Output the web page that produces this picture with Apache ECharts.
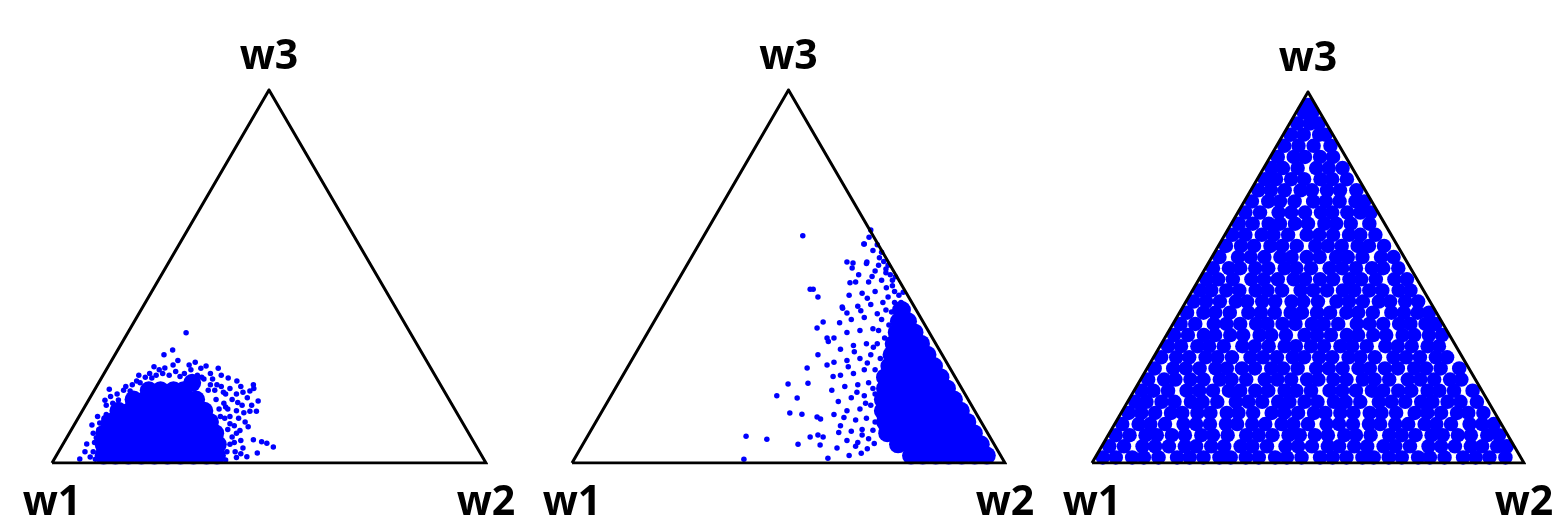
<!DOCTYPE html>
<html>
<head>
<meta charset="utf-8">
<title>Ternary weight samples</title>
<script src="https://cdn.jsdelivr.net/npm/echarts@6/dist/echarts.min.js"></script>
<style>
	html, body { margin: 0; padding: 0; background: #fff; }
	#chart { width: 1556px; height: 522px; }
</style>
</head>
<body>
<div id="chart"></div>
<script>
// coordinates: x = position along w1 -> w2 (0..100), h = height toward w3 (0..100)
var vertexLabels = ['w1', 'w2', 'w3'];
var triangle = [[0, 0], [100, 0], [50, 100], [0, 0]];

// panel 1: cluster near w1
var blobCoreRows = [
	[2, [11.9, 14.6, 17.6, 20.6, 23.6, 26.6, 29.6, 32.6, 35.6, 38]],
	[5, [11.9, 14.6, 17.6, 20.6, 23.6, 26.6, 29.6, 32.6, 35.6, 38.2]],
	[8, [12.1, 14.8, 17.8, 20.8, 23.8, 26.8, 29.8, 32.8, 35.8, 37.6]],
	[11, [13.3, 16, 19, 22, 25, 28, 31, 34, 36.4]],
	[14, [15.3, 18, 21, 24, 27, 30, 33, 35.1]],
	[17, [18.8, 21.5, 24.5, 27.5, 30.5, 33.2]],
	[19.5, [22.3, 25, 28, 30.3]],
	[21.5, [32.3]]
];
var blobFringe = [
	[30.9,34.9],[25.8,29],[27.8,30.3],[24.7,25],[27.9,26.3],[31.6,26.3],[34.3,25.4],[38.3,25.4],
	[40.6,22.8],[42.6,22],[46.4,21],[46.5,20],[45.6,19.3],[47.5,16.6],[43.8,15.5],[45.6,13.9],
	[47.1,13.9],[45.2,9.7],[43.3,8.7],[46.4,6.2],[48.3,5.7],[49.5,5.3],[51,4.3],[47.3,2.7],
	[44.9,1.7],[42.2,3],[8,5.1],[6.4,1.1],[8.8,1.6],[11,10.7],[12.5,13],[15.3,16.9],[18,19.3],
	[20.3,21.5],[23,22.8],[40,18.5],[39,20.5],[37.5,19.5],[41.5,17],[42.5,14],[41,12.5],[43,12],
	[40.5,14.5],[42,10],[41.5,7],[43.5,6],[44,4],[42.5,1.5],[41,5],[40.5,9],[39.6,16],[36.5,21],
	[35,22.5],[33.5,23.5],[29.5,23.2],[27,23.5],[21.5,23],[26,25.5],[18.5,21],[16.5,19.5],[14,16],
	[12.5,15.5],[13.5,17.8],[10.5,12.5],[9.5,8],[9.2,10.2],[9.5,3],[9.8,5.5],[10,1],[25.5,24],
	[36.5,24],[39,23.5],[44.5,11],[45,17.5],[44,19],[43.5,20.5],
	[17,20.5],[19.5,22],[22.5,24],[24,23.5],[28.5,24.5],[30.5,24],[32,25],[34.5,23],[37,22.5],
	[38,21],[39.5,19],[41,20],[42.5,18.5],[40,15],[41,10.5],[42.5,8],[40.3,3],[42,5.5],[43.5,2.5],
	[40,0.8],[38.8,12.5],[39.8,12],[38.5,14.5],[37.8,17],[36,19.5],[15,18.5],[14.2,14],[12,12],
	[10.8,9],[10.2,6.8],[10.8,3.5],[7.6,3],[12.2,16.8],[13.2,19.8],[20,23.5],[23.5,25.8],[29,27.5],
	[33,27],[35.5,26],[44.2,13.5],[46,15.5],[42.8,16.2]
];

// panel 2: mass pushed against the w2-w3 edge
var skewCoreRows = [
	[2, [78.3, 81, 84, 87, 90, 93, 95.8]],
	[5, [75.3, 78, 81, 84, 87, 90, 92.6, 94.4]],
	[8, [72.8, 75.5, 78.5, 81.5, 84.5, 87.5, 90.5, 92.8]],
	[11, [72.3, 75, 78, 81, 84, 87, 89.5, 91.3]],
	[14, [71.8, 74.5, 77.5, 80.5, 83.5, 86.5, 88.6, 89.8]],
	[17, [71.8, 74.5, 77.5, 80.5, 83.5, 86.5, 88.2]],
	[20, [72.3, 75, 78, 81, 84, 86.6]],
	[23, [72.3, 75, 78, 81, 83.5, 85.1]],
	[26, [73.3, 76, 79, 82, 83.6]],
	[29, [73.8, 76.5, 79.5, 82.1]],
	[32, [74.3, 77, 79.5, 80.6]],
	[35, [75, 77.5, 79.1]],
	[38, [75.5, 77.6]],
	[41, [76, 76.2]]
];
var skewFringe = [
	[53.3,60.9],[67.4,58.7],[63.5,53.9],[64.9,53.6],[64.7,52.3],[68.1,53.9],[55,46.6],[55.7,46.6],
	[56.8,44.5],[64.2,48.3],[62.4,41.8],[63.5,40.2],[58,37.8],[56.6,36.2],[58.9,33.5],[59.2,32.6],
	[56.8,29],[54.3,25.5],[58.9,26.3],[54.5,21.4],[49.9,21.2],[47.3,18],[52,17.4],[50.3,13.4],
	[53.1,13.1],[56.6,12.3],[57.4,11.8],[45,6.4],[40.2,7.2],[39.7,1],[52.2,5],[55,7],[56.8,7.5],
	[58,7],[57.3,4.8],[59.1,1.3],[61.2,4],[64,2],[65.5,4.5],
	[63.5,6],[66,5.5],[68.5,6.5],[64.5,8.5],[67,9],[69.5,8.8],[62,10],[65.5,11.5],[68,12],[70,11],
	[60.5,13],[63.5,14],[66.5,14.5],[69,15.5],[61.5,16.5],[64.5,17.5],[67.5,18],[70,18.5],[60,19.5],
	[63,20.5],[66,21],[68.5,21.5],[62,23.5],[65,24],[67.5,25],[70,25],[60.5,27],[63.5,27.5],
	[66.5,28],[69,29],[62,30.5],[65,31.5],[68,32],[70.5,32],[60.5,33.5],[63.5,35],[66.5,35.5],
	[69.5,36],[71.5,38.5],[64.5,38.5],[67.5,39],[62.5,41.5],[66,42],[69,42.5],[72.5,41],[64,45],
	[67,45.5],[70,46],[73,44.5],[68.5,48.5],[71.5,49],[74,47.5],[65.5,48.5],[70,51.5],[72.5,52],
	[68,53.5],[71,55],[73.5,50.5],[69.5,57],[67.5,58.7],[68.6,60.5],[69,62.5],[70.5,58.5],[72,54],
	[74.5,46],[75.5,45],[74,49],[72.5,51],[76,43],[73,53],[71.5,56.5],
	[68.2,3.8],[67,7.5],[69.8,5.2],[71,14],[69.5,20],[71,22.5],[68.2,26.8],[71.2,28],[69.6,31],
	[72.2,33.5],[70.8,35.5],[73.2,37],[70.5,40],[73.8,40.5],[71.8,43],[74.5,43],[72.6,47],
	[65.2,29.8],[61.8,37.6],[60.3,23.2],[66.7,40.8],[68.2,44.2],[66.2,50.5],[69.3,50],[70.8,53],
	[74.7,49.9],[76.5,45.8],[67.8,16],[65.8,19],[63.8,25.8],[61.6,8.2],[62.8,12.2],[66.8,2.6]
];

// panel 3: spread over the whole simplex
var uniformRows = [
	[1.5, [2.5, 5.5, 9.3, 12, 15.4, 19.7, 22.6, 25.8, 29.5, 32.1, 35.6, 38.6, 42.4, 45.1, 48.5, 52.8, 55.7, 58.9, 62.6, 65.2, 68.7, 71.7, 75.5, 78.2, 81.6, 85.9, 88.8, 92, 95.7]],
	[4.5, [4, 7.4, 11.7, 14.6, 17.8, 21.5, 24.1, 27.6, 30.6, 34.4, 37.1, 40.5, 44.8, 47.7, 50.9, 54.6, 57.2, 60.7, 63.7, 67.5, 70.2, 73.6, 77.9, 80.8, 84, 87.7, 90.3, 93.8, 96]],
	[7.5, [5.5, 8.7, 12.4, 15, 18.5, 21.5, 25.3, 28, 31.4, 35.7, 38.6, 41.8, 45.5, 48.1, 51.6, 54.6, 58.4, 61.1, 64.5, 68.8, 71.7, 74.9, 78.6, 81.2, 84.7, 87.7, 91.5, 94.2]],
	[10.5, [7, 10.8, 13.5, 16.9, 21.2, 24.1, 27.3, 31, 33.6, 37.1, 40.1, 43.9, 46.6, 50, 54.3, 57.2, 60.4, 64.1, 66.7, 70.2, 73.2, 77, 79.7, 83.1, 87.4, 90.3, 93]],
	[13.5, [8.5, 11.4, 14.6, 18.3, 20.9, 24.4, 27.4, 31.2, 33.9, 37.3, 41.6, 44.5, 47.7, 51.4, 54, 57.5, 60.5, 64.3, 67, 70.4, 74.7, 77.6, 80.8, 84.5, 87.1, 90.6]],
	[16.5, [10, 12.6, 16.1, 19.1, 22.9, 25.6, 29, 33.3, 36.2, 39.4, 43.1, 45.7, 49.2, 52.2, 56, 58.7, 62.1, 66.4, 69.3, 72.5, 76.2, 78.8, 82.3, 85.3, 89.1]],
	[19.5, [11.5, 14.2, 17.6, 21.9, 24.8, 28, 31.7, 34.3, 37.8, 40.8, 44.6, 47.3, 50.7, 55, 57.9, 61.1, 64.8, 67.4, 70.9, 73.9, 77.7, 80.4, 83.8, 88.1]],
	[22.5, [13, 16.7, 19.3, 22.8, 25.8, 29.6, 32.3, 35.7, 40, 42.9, 46.1, 49.8, 52.4, 55.9, 58.9, 62.7, 65.4, 68.8, 73.1, 76, 79.2, 82.9, 85.5]],
	[25.5, [14.5, 18.8, 21.7, 24.9, 28.6, 31.2, 34.7, 37.7, 41.5, 44.2, 47.6, 51.9, 54.8, 58, 61.7, 64.3, 67.8, 70.8, 74.6, 77.3, 80.7, 85]],
	[28.5, [16, 19.5, 22.5, 26.3, 29, 32.4, 36.7, 39.6, 42.8, 46.5, 49.1, 52.6, 55.6, 59.4, 62.1, 65.5, 69.8, 72.7, 75.9, 79.6, 82.2]],
	[31.5, [17.6, 20.6, 24.4, 27.1, 30.5, 34.8, 37.7, 40.9, 44.6, 47.2, 50.7, 53.7, 57.5, 60.2, 63.6, 67.9, 70.8, 74, 77.7, 80.3]],
	[34.5, [19, 22.2, 25.9, 28.5, 32, 35, 38.8, 41.5, 44.9, 49.2, 52.1, 55.3, 59, 61.6, 65.1, 68.1, 71.9, 74.6, 78, 81]],
	[37.5, [20.5, 23.9, 28.2, 31.1, 34.3, 38, 40.6, 44.1, 47.1, 50.9, 53.6, 57, 61.3, 64.2, 67.4, 71.1, 73.7, 77.2, 79.5]],
	[40.5, [22, 25.8, 28.5, 31.9, 36.2, 39.1, 42.3, 46, 48.6, 52.1, 55.1, 58.9, 61.6, 65, 69.3, 72.2, 75.4, 78]],
	[43.5, [23.5, 26.4, 29.6, 33.3, 35.9, 39.4, 42.4, 46.2, 48.9, 52.3, 56.6, 59.5, 62.7, 66.4, 69, 72.5, 75.5]],
	[46.5, [25, 27.6, 31.1, 34.1, 37.9, 40.6, 44, 48.3, 51.2, 54.4, 58.1, 60.7, 64.2, 67.2, 71, 73.7]],
	[49.5, [26.5, 29.2, 32.6, 36.9, 39.8, 43, 46.7, 49.3, 52.8, 55.8, 59.6, 62.3, 65.7, 70, 72.9]],
	[52.5, [28, 31.7, 34.3, 37.8, 40.8, 44.6, 47.3, 50.7, 55, 57.9, 61.1, 64.8, 67.4, 70.9]],
	[55.5, [29.5, 33.8, 36.7, 39.9, 43.6, 46.2, 49.7, 52.7, 56.5, 59.2, 62.6, 66.9, 69.8]],
	[58.5, [31, 34.5, 37.5, 41.3, 44, 47.4, 51.7, 54.6, 57.8, 61.5, 64.1, 67.6]],
	[61.5, [32.5, 35.5, 39.3, 42, 45.4, 49.7, 52.6, 55.8, 59.5, 62.1, 65.6]],
	[64.5, [34, 37.2, 40.9, 43.5, 47, 50, 53.8, 56.5, 59.9, 64.2]],
	[67.5, [35.5, 38.9, 43.2, 46.1, 49.3, 53, 55.6, 59.1, 62.1, 64.5]],
	[70.5, [37, 40.8, 43.5, 46.9, 51.2, 54.1, 57.3, 61, 63]],
	[73.5, [38.5, 41.4, 44.6, 48.3, 50.9, 54.4, 57.4, 61.2]],
	[76.5, [40, 42.6, 46.1, 49.1, 52.9, 55.6, 59]],
	[79.5, [41.5, 44.2, 47.6, 51.9, 54.8, 58]],
	[82.5, [43, 46.7, 49.3, 52.8, 55.8]],
	[85.5, [44.5, 47.8, 51.3, 55.2]],
	[88.5, [46, 49, 52.6, 54]],
	[91.5, [47.5, 50.4, 52.5]],
	[94.5, [49, 51]],
	[96.5, [50]]
];

function fromRows(rows) {
	var out = [];
	rows.forEach(function (r) {
		r[1].forEach(function (x) { out.push([x, r[0]]); });
	});
	return out;
}

var BLUE = '#0000ff';
var dotStyle = { color: BLUE, opacity: 1, borderWidth: 0 };
var panels = [
	{ left: 52, top: 90, width: 434, height: 373, core: fromRows(blobCoreRows), coreSize: 18, fringe: blobFringe },
	{ left: 572, top: 90, width: 433, height: 373, core: fromRows(skewCoreRows), coreSize: 18, fringe: skewFringe },
	{ left: 1092, top: 92, width: 432, height: 371, core: fromRows(uniformRows), coreSize: 14.5, fringe: [] }
];

var labelFont = { color: '#000', opacity: 1, fontFamily: 'Open Sans', fontWeight: 'bold', fontSize: 41, lineHeight: 41 };
function vertexLabel(pos, dist) {
	return Object.assign({ show: true, position: pos, distance: dist, formatter: '{b}' }, labelFont);
}

var grid = [], xAxis = [], yAxis = [], series = [];
panels.forEach(function (p, i) {
	grid.push({ left: p.left, top: p.top, width: p.width, height: p.height });
	xAxis.push({ type: 'value', gridIndex: i, min: 0, max: 100, show: false });
	yAxis.push({ type: 'value', gridIndex: i, min: 0, max: 100, show: false });
	series.push({
		type: 'scatter', xAxisIndex: i, yAxisIndex: i, data: p.core, symbol: 'circle',
		symbolSize: p.coreSize, itemStyle: dotStyle, emphasis: { disabled: true }, z: 2
	});
	if (p.fringe.length) {
		series.push({
			type: 'scatter', xAxisIndex: i, yAxisIndex: i, data: p.fringe, symbol: 'circle',
			symbolSize: 5.5, itemStyle: dotStyle, emphasis: { disabled: true }, z: 2
		});
	}
	series.push({
		type: 'line', xAxisIndex: i, yAxisIndex: i, data: triangle,
		symbol: 'none', lineStyle: { color: '#000', width: 3, join: 'miter' }, z: 5
	});
	series.push({
		type: 'scatter', xAxisIndex: i, yAxisIndex: i, symbolSize: 0, z: 6,
		itemStyle: { opacity: 1 }, emphasis: { disabled: true },
		data: [
			{ value: [0, 0], name: vertexLabels[0], label: vertexLabel('bottom', 20) },
			{ value: [100, 0], name: vertexLabels[1], label: vertexLabel('bottom', 20) },
			{ value: [50, 100], name: vertexLabels[2], label: vertexLabel('top', 12) }
		]
	});
});

var chart = echarts.init(document.getElementById('chart'));
chart.setOption({
	animation: false,
	backgroundColor: '#fff',
	grid: grid,
	xAxis: xAxis,
	yAxis: yAxis,
	series: series
});
</script>
</body>
</html>
